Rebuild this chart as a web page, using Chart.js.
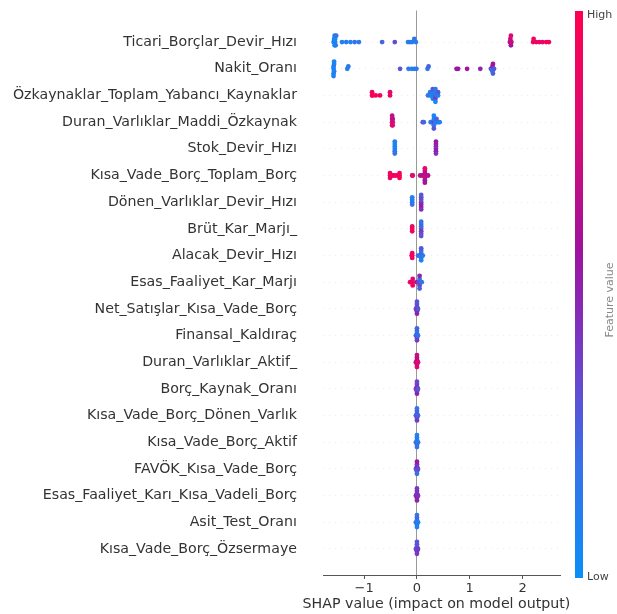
<!DOCTYPE html>
<html>
<head>
<meta charset="utf-8">
<script src="https://cdn.jsdelivr.net/npm/chart.js@4/dist/chart.umd.min.js"></script>
<style>
  html, body { margin: 0; padding: 0; background: #ffffff; }
  #wrap { position: relative; width: 617px; height: 614px; }
</style>
</head>
<body>
<div id="wrap"><canvas id="c"></canvas></div>
<script>
// Feature names, top (most important) to bottom
const features = [
  'Ticari_Borçlar_Devir_Hızı',
  'Nakit_Oranı',
  'Özkaynaklar_Toplam_Yabancı_Kaynaklar',
  'Duran_Varlıklar_Maddi_Özkaynak',
  'Stok_Devir_Hızı',
  'Kısa_Vade_Borç_Toplam_Borç',
  'Dönen_Varlıklar_Devir_Hızı',
  'Brüt_Kar_Marjı_',
  'Alacak_Devir_Hızı',
  'Esas_Faaliyet_Kar_Marjı',
  'Net_Satışlar_Kısa_Vade_Borç',
  'Finansal_Kaldıraç',
  'Duran_Varlıklar_Aktif_',
  'Borç_Kaynak_Oranı',
  'Kısa_Vade_Borç_Dönen_Varlık',
  'Kısa_Vade_Borç_Aktif',
  'FAVÖK_Kısa_Vade_Borç',
  'Esas_Faaliyet_Karı_Kısa_Vadeli_Borç',
  'Asit_Test_Oranı',
  'Kısa_Vade_Borç_Özsermaye'
];

// Each sample: [SHAP value, normalised feature value (0 = low, 1 = high)]
const ticariBorclar = [
  [-1.58,.05],[-1.57,.1],[-1.56,.05],[-1.56,.15],[-1.55,.1],[-1.55,.05],[-1.54,.1],[-1.53,.2],
  [-1.42,.1],[-1.34,.15],[-1.26,.1],[-1.18,.2],[-1.10,.15],
  [-0.66,.25],[-0.42,.35],
  [-0.17,.1],[-0.13,.15],[-0.09,.1],[-0.05,.2],[-0.02,.15],
  [1.76,.65],[1.77,.75],[1.78,.6],[1.78,.8],[1.79,.7],
  [2.20,.9],[2.21,.95],[2.26,.85],[2.32,.9],[2.38,.85],[2.45,.95],[2.50,.9]
];
const nakitOrani = [
  [-1.58,.05],[-1.58,.1],[-1.57,.05],[-1.57,.15],[-1.58,.1],[-1.57,.05],[-1.58,.1],
  [-1.32,.1],[-1.30,.15],
  [-0.32,.3],
  [-0.16,.15],[-0.10,.1],[-0.05,.2],[-0.01,.15],
  [0.20,.15],[0.22,.25],
  [0.75,.6],[0.78,.55],[0.95,.6],
  [1.20,.5],
  [1.40,.35],[1.42,.2],[1.43,.5],[1.43,.15],[1.44,.6],[1.44,.25],[1.46,.3]
];
const ozkaynaklarYabanci = [
  [-0.85,.95],[-0.85,.9],[-0.84,1],[-0.78,.95],[-0.70,.9],[-0.51,.9],[-0.51,.85],
  [0.21,.2],[0.25,.1],[0.25,.15],[0.28,.05],[0.30,.1],[0.30,.2],[0.30,.05],[0.30,.3],
  [0.31,.15],[0.33,.1],[0.35,.25],[0.35,.1],[0.35,.4],[0.35,.15],[0.35,.05],
  [0.38,.2],[0.40,.1],[0.40,.3]
];
const duranMaddi = [
  [-0.47,.8],[-0.47,.75],[-0.47,.85],[-0.47,.7],[-0.46,.8],[-0.46,.7],[-0.46,.8],
  [0.11,.3],[0.13,.25],[0.26,.2],[0.28,.1],[0.30,.15],
  [0.32,.4],[0.32,.1],[0.32,.2],[0.32,.05],[0.32,.3],
  [0.35,.15],[0.37,.1],[0.37,.25],[0.40,.2],[0.43,.1]
];
const stokDevir = [
  [-0.42,.05],[-0.42,.1],[-0.42,.15],[-0.42,.05],[-0.42,.2],[-0.42,.1],
  [0.36,.5],[0.36,.45],[0.36,.55],[0.36,.5],[0.36,.45],[0.36,.55]
];
const kisaToplam = [
  [-0.51,.9],[-0.51,.95],[-0.51,.85],[-0.48,.9],[-0.45,.95],[-0.41,.9],[-0.37,.85],
  [-0.33,.9],[-0.33,.95],[-0.33,1],
  [-0.09,.85],[-0.08,.8],
  [0.06,.7],[0.10,.6],[0.15,.75],[0.15,.65],[0.15,.8],[0.15,.7],[0.15,.55],[0.15,.85],[0.15,.6],
  [0.18,.7],[0.21,.65]
];
const donenDevir = [
  [-0.09,.1],[-0.09,.15],[-0.09,.2],[-0.09,.1],
  [0.08,.4],[0.08,.3],[0.08,.5],[0.08,.35],[0.08,.55],[0.08,.3],[0.08,.45]
];
const brutKar = [
  [-0.09,.9],[-0.09,.85],[-0.09,.95],
  [0.08,.3],[0.08,.2],[0.08,.4],[0.08,.25],[0.08,.35],[0.08,.2],[0.08,.3]
];
const alacakDevir = [
  [-0.10,.9],[-0.09,.85],[-0.09,.95],[-0.09,.9],
  [0.02,.2],[0.05,.15],[0.08,.1],[0.08,.25],[0.08,.15],[0.08,.2],[0.08,.1],[0.08,.3],[0.11,.15]
];
const esasKarMarji = [
  [-0.13,.9],[-0.11,.85],[-0.08,.9],[-0.08,.8],[-0.08,.95],
  [0.00,.6],[0.03,.3],[0.05,.4],[0.05,.2],[0.05,.35],[0.05,.5],[0.05,.25],[0.07,.3],[0.09,.2]
];
const netSatislar = [
  [-0.02,.35],[0.00,.4],[0.00,.3],[0.00,.45],[0.00,.35],[0.00,.5],[0.00,.3],[0.01,.4],[0.02,.3]
];
const finansalKaldirac = [
  [-0.02,.2],[0.00,.3],[0.00,.15],[0.00,.35],[0.00,.2],[0.00,.4],[0.00,.25],[0.01,.3],[0.02,.2]
];
const duranAktif = [
  [-0.02,.75],[0.00,.8],[0.00,.7],[0.00,.85],[0.00,.65],[0.00,.8],[0.00,.75],[0.01,.7],[0.02,.8]
];
const borcKaynak = [
  [-0.02,.4],[0.00,.35],[0.00,.45],[0.00,.3],[0.00,.4],[0.00,.5],[0.00,.35],[0.01,.4],[0.02,.3]
];
const kisaDonen = [
  [-0.02,.25],[0.00,.3],[0.00,.2],[0.00,.35],[0.00,.25],[0.00,.4],[0.00,.2],[0.01,.3],[0.02,.25]
];
const kisaAktif = [
  [-0.02,.15],[0.00,.2],[0.00,.1],[0.00,.25],[0.00,.15],[0.00,.2],[0.00,.1],[0.01,.2],[0.02,.15]
];
const favokKisa = [
  [-0.02,.3],[0.00,.25],[0.00,.6],[0.00,.3],[0.00,.4],[0.00,.2],[0.00,.55],[0.01,.3],[0.02,.35]
];
const esasKisaVadeli = [
  [-0.02,.45],[0.00,.5],[0.00,.4],[0.00,.55],[0.00,.45],[0.00,.5],[0.00,.4],[0.01,.5],[0.02,.45]
];
const asitTest = [
  [-0.02,.15],[0.00,.2],[0.00,.1],[0.00,.15],[0.00,.25],[0.00,.1],[0.00,.2],[0.01,.15],[0.02,.1]
];
const kisaOzsermaye = [
  [-0.02,.35],[0.00,.4],[0.00,.25],[0.00,.45],[0.00,.3],[0.00,.4],[0.00,.3],[0.01,.35],[0.02,.4]
];

const featureSamples = [
  ticariBorclar, nakitOrani, ozkaynaklarYabanci, duranMaddi, stokDevir, kisaToplam,
  donenDevir, brutKar, alacakDevir, esasKarMarji, netSatislar, finansalKaldirac,
  duranAktif, borcKaynak, kisaDonen, kisaAktif, favokKisa, esasKisaVadeli, asitTest, kisaOzsermaye
];

// x axis ticks and title
const xTicks = [-1, 0, 1, 2];
const xTickLabels = ['\u22121', '0', '1', '2'];
const xTitle = 'SHAP value (impact on model output)';

// Blue -> purple -> red feature value colour map
const colorStops = [
  [0.00, [10, 143, 248]],
  [0.20, [54, 114, 232]],
  [0.37, [110, 66, 204]],
  [0.58, [160, 18, 156]],
  [0.80, [220, 10, 114]],
  [1.00, [255, 0, 80]]
];

function featureColor(t) {
  t = Math.max(0, Math.min(1, t));
  for (let i = 1; i < colorStops.length; i++) {
    const [p1, c1] = colorStops[i];
    const [p0, c0] = colorStops[i - 1];
    if (t <= p1) {
      const f = (t - p0) / (p1 - p0);
      const c = c0.map((v, k) => Math.round(v + (c1[k] - v) * f));
      return `rgb(${c[0]},${c[1]},${c[2]})`;
    }
  }
  const c = colorStops[colorStops.length - 1][1];
  return `rgb(${c[0]},${c[1]},${c[2]})`;
}

// Beeswarm layering: points falling in the same value bin are stacked up/down
function swarmOffsets(values, rowHeight) {
  const nbins = 100;
  const lo = Math.min(...values), hi = Math.max(...values);
  const quant = values.map(v => Math.round(nbins * (v - lo) / (hi - lo + 1e-8)));
  const order = values.map((_, i) => i).sort((a, b) => quant[a] - quant[b] || a - b);
  const ys = new Array(values.length).fill(0);
  let layer = 0, last = -1;
  for (const i of order) {
    if (quant[i] !== last) layer = 0;
    ys[i] = Math.ceil(layer / 2) * ((layer % 2) * 2 - 1);
    layer++;
    last = quant[i];
  }
  const m = Math.max(...ys.map(y => y + 1));
  return ys.map(y => y * 0.9 * (rowHeight / m));
}

const datasets = featureSamples.map((samples, row) => {
  const shaps = samples.map(s => s[0]);
  const offs = swarmOffsets(shaps, 0.4);
  return {
    label: features[row],
    data: samples.map((s, i) => ({ x: s[0], y: row - offs[i] })),
    pointBackgroundColor: samples.map(s => featureColor(s[1])),
    pointBorderWidth: 0,
    pointRadius: 2.4,
    pointHoverRadius: 2.4
  };
});

// Colour bar with High / Low labels, plus the x axis title (drawn unclipped)
const colorBarPlugin = {
  id: 'colorBar',
  afterDraw(chart) {
    const ctx = chart.ctx;
    const x = 575, top = 11, bottom = 578, w = 8;
    const g = ctx.createLinearGradient(0, bottom, 0, top);
    colorStops.forEach(([p, c]) => g.addColorStop(p, `rgb(${c[0]},${c[1]},${c[2]})`));
    ctx.save();
    ctx.fillStyle = g;
    ctx.fillRect(x, top, w, bottom - top);
    ctx.fillStyle = '#444';
    ctx.font = '11px "DejaVu Sans"';
    ctx.textAlign = 'left';
    ctx.textBaseline = 'middle';
    ctx.fillText('High', x + w + 4, top + 4);
    ctx.fillText('Low', x + w + 4, bottom - 1);

    const area = chart.chartArea;
    ctx.fillStyle = '#333';
    ctx.font = '14.2px "DejaVu Sans"';
    ctx.textAlign = 'center';
    ctx.fillText(xTitle, (area.left + area.right) / 2 - 5, 604);

    ctx.translate(610, 300);
    ctx.rotate(-Math.PI / 2);
    ctx.textAlign = 'center';
    ctx.fillStyle = '#888';
    ctx.font = '11px "DejaVu Sans"';
    ctx.fillText('Feature value', 0, 0);
    ctx.restore();
  }
};

new Chart(document.getElementById('c'), {
  type: 'scatter',
  data: { datasets },
  plugins: [colorBarPlugin],
  options: {
    responsive: true,
    maintainAspectRatio: false,
    animation: false,
    layout: { padding: { top: 0, right: 57, bottom: 0, left: 0 } },
    plugins: { legend: { display: false }, tooltip: { enabled: false } },
    scales: {
      x: {
        type: 'linear',
        min: -1.78,
        max: 2.71,
        afterBuildTicks: s => { s.ticks = xTicks.map(v => ({ value: v })); },
        afterFit: s => { s.height = 39; },
        ticks: {
          callback: (v, i) => xTickLabels[i],
          color: '#333',
          font: { family: 'DejaVu Sans', size: 13 },
          padding: 2,
          maxRotation: 0
        },
        grid: {
          drawOnChartArea: true,
          color: c => (c.tick && c.tick.value === 0 ? '#999999' : 'rgba(0,0,0,0)'),
          lineWidth: 1,
          drawTicks: true,
          tickLength: 4,
          tickColor: '#555'
        },
        border: { display: true, color: '#555', width: 1 },
        title: { display: false }
      },
      y: {
        type: 'linear',
        reverse: true,
        min: -1.184,
        max: 19.975,
        afterBuildTicks: s => { s.ticks = features.map((_, i) => ({ value: i })); },
        afterFit: s => { s.width = 323; },
        ticks: {
          autoSkip: false,
          callback: (v, i) => features[i],
          color: '#333',
          font: { family: 'DejaVu Sans', size: 14.2 },
          padding: 2
        },
        grid: {
          drawOnChartArea: true,
          drawTicks: true,
          tickLength: 24,
          tickColor: 'rgba(0,0,0,0)',
          color: '#ebebeb',
          lineWidth: 1
        },
        border: { display: false, dash: [1, 5] }
      }
    }
  }
});
</script>
</body>
</html>
